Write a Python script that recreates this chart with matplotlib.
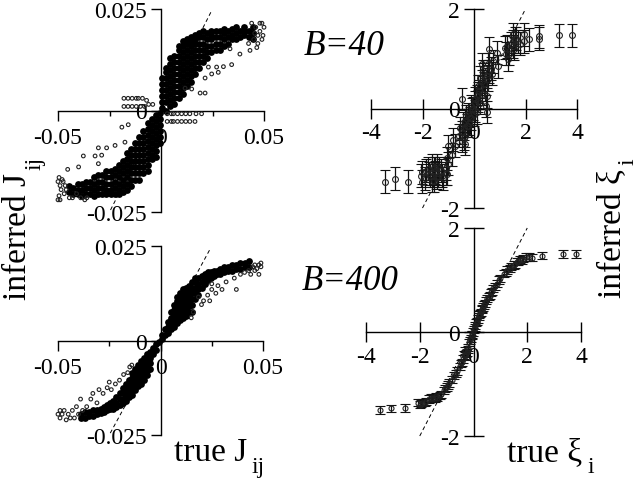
import matplotlib
matplotlib.use("Agg")
import matplotlib.pyplot as plt

plt.rcParams['font.family'] = ['Liberation Serif', 'DejaVu Serif']

# top left, B=40 : dense part
core_a_cols = [0.0005,0.0025,0.0045,0.0065,0.0085,0.0105,0.0125,0.0145,0.0165,0.0185,0.0205,0.0225,0.0245,0.0265,0.0285,0.0305,0.0325,0.0345,0.0365,0.0385,0.0405,0.0425,0.0445,
               -0.0005,-0.0025,-0.0045,-0.0065,-0.0085,-0.0105,-0.0125,-0.0145,-0.0165,-0.0185,-0.0205,-0.0225,-0.0245,-0.0265,-0.0285,-0.0305,-0.0325,-0.0345,-0.0365,-0.0385,-0.0405,-0.0425,-0.0445]
core_a_vals = [[0.0005,0.002,0.0035,0.005,0.0065,0.008],
               [0.0,0.002,0.0035,0.005,0.0065,0.008,0.0095,0.0105],
               [0.001,0.0025,0.004,0.0055,0.007,0.0085,0.01,0.0115,0.013],
               [0.0015,0.003,0.0045,0.006,0.0075,0.009,0.0105,0.012,0.0135],
               [0.003,0.0045,0.006,0.0075,0.009,0.0105,0.012,0.0135,0.015,0.016],
               [0.004,0.0055,0.007,0.0085,0.01,0.0115,0.013,0.0145,0.016,0.017],
               [0.006,0.0075,0.009,0.0105,0.012,0.0135,0.015,0.0165,0.0175],
               [0.007,0.0085,0.01,0.0115,0.013,0.0145,0.016,0.017,0.018],
               [0.009,0.0105,0.012,0.0135,0.015,0.0165,0.0175,0.0185],
               [0.0105,0.012,0.0135,0.015,0.0165,0.018,0.019],
               [0.012,0.0135,0.015,0.0165,0.018,0.0195],
               [0.013,0.0145,0.016,0.0175,0.019],
               [0.0145,0.016,0.0175,0.0185,0.0195],
               [0.015,0.0165,0.018,0.0195],
               [0.015,0.0165,0.018,0.0195],
               [0.016,0.0175,0.019,0.02],
               [0.0165,0.018,0.0195],
               [0.0175,0.0185,0.02],
               [0.0175,0.019,0.0205],
               [0.018,0.0195],
               [0.0185,0.0195,0.0205],
               [0.018,0.0195],
               [0.0175,0.019,0.0205],
               [-0.0005,-0.002,-0.0035,-0.005,-0.0065,-0.008],
               [-0.001,-0.0025,-0.004,-0.0055,-0.007,-0.0085,-0.01,-0.0115],
               [-0.002,-0.0035,-0.005,-0.0065,-0.008,-0.0095,-0.011,-0.012],
               [-0.003,-0.0045,-0.006,-0.0075,-0.009,-0.0105,-0.012,-0.0135,-0.015],
               [-0.005,-0.0065,-0.008,-0.0095,-0.011,-0.0125,-0.014,-0.0155],
               [-0.0065,-0.008,-0.0095,-0.011,-0.0125,-0.014,-0.0155,-0.017],
               [-0.008,-0.0095,-0.011,-0.0125,-0.014,-0.0155,-0.017],
               [-0.0095,-0.011,-0.0125,-0.014,-0.0155,-0.017,-0.0185],
               [-0.0105,-0.012,-0.0135,-0.015,-0.0165,-0.018,-0.0195],
               [-0.0125,-0.014,-0.0155,-0.017,-0.0185,-0.02],
               [-0.0135,-0.015,-0.0165,-0.018,-0.0195,-0.0205],
               [-0.0145,-0.016,-0.0175,-0.019,-0.0205],
               [-0.015,-0.0165,-0.018,-0.0195,-0.0205],
               [-0.015,-0.0165,-0.018,-0.0195,-0.0205],
               [-0.016,-0.0175,-0.019,-0.0205],
               [-0.016,-0.0175,-0.019,-0.0205],
               [-0.0165,-0.018,-0.0195,-0.021],
               [-0.0175,-0.019,-0.0205],
               [-0.0175,-0.019,-0.0205],
               [-0.018,-0.0195,-0.021],
               [-0.018,-0.0195,-0.0205],
               [-0.019,-0.0205],
               [-0.0185,-0.02]]

# top left : loose circles and the two wings along y=0
loose_a_x = [-0.018,-0.016,-0.014,-0.012,-0.011,-0.009,-0.007,-0.018,-0.016,-0.014,-0.012,-0.01,-0.008,-0.006,-0.004,
             0.003,0.005,0.006,0.008,0.01,0.012,0.014,0.017,0.0197,0.003,0.005,0.006,0.008,0.01,0.012,0.014,0.0165,
             0.019,0.0214,0.0149,0.0117,0.0214,0.0246,0.0278,0.0303,0.0343,0.0383,0.0432,0.0335,0.027,0.023,
             0.0425,0.044,0.045,0.046,0.0465,0.047,0.048,0.048,0.049,0.049,0.05,0.0495,0.047,0.0455,
             -0.0453,-0.0377,-0.04,-0.032,-0.0288,-0.0304,-0.0264,-0.0304,-0.019,-0.0159,-0.0223,-0.0175,
             -0.05,-0.0495,-0.049,-0.0485,-0.048,-0.0475,-0.047,-0.0465,-0.046,-0.049,-0.05,-0.0495,-0.0445,-0.043,-0.041,-0.039,-0.037,-0.036]
loose_a_y = [0.003,0.003,0.003,0.003,0.003,0.003,0.0025,0.001,0.001,0.001,0.001,0.001,0.001,0.0015,0.0015,
             -0.0008,-0.0008,-0.0008,-0.0008,-0.0008,-0.0008,-0.0008,-0.0008,-0.0008,-0.0027,-0.0027,-0.0027,-0.0027,-0.0027,-0.0027,-0.0027,-0.0027,
             0.0043,0.0043,0.0053,0.0055,0.008,0.009,0.0094,0.0108,0.0113,0.0139,0.0148,0.0152,0.0107,0.0107,
             0.0165,0.0215,0.0175,0.0205,0.0155,0.0185,0.0215,0.0195,0.0175,0.0215,0.0205,0.0185,0.0165,0.019,
             -0.0145,-0.0112,-0.0139,-0.0112,-0.011,-0.0092,-0.0092,-0.0131,-0.0041,-0.0035,-0.0086,-0.0078,
             -0.0175,-0.0165,-0.0185,-0.0195,-0.017,-0.0175,-0.0205,-0.0185,-0.0195,-0.022,-0.022,-0.021,-0.0215,-0.0215,-0.0205,-0.0215,-0.022,-0.0215]

# bottom left, B=400 : dense part
core_c_cols = [0.0005,0.002,0.0035,0.005,0.0065,0.008,0.0095,0.011,0.0125,0.014,0.0155,0.017,0.0185,0.02,0.0215,0.023,0.0245,0.026,0.0275,0.029,0.031,0.033,0.035,0.037,0.039,0.041,0.043,
               -0.0005,-0.002,-0.0035,-0.005,-0.0065,-0.008,-0.0095,-0.011,-0.0125,-0.014,-0.0155,-0.017,-0.0185,-0.02,-0.0215,-0.023,-0.0245,-0.026,-0.0275,-0.029,-0.031,-0.033,-0.035,-0.037,-0.039]
core_c_vals = [[0.0005,0.0015],[0.0015,0.003],[0.002,0.0035,0.005],[0.003,0.0045,0.006,0.0075],
               [0.0035,0.005,0.0065,0.008,0.0095],[0.0045,0.006,0.0075,0.009,0.0105,0.0115],
               [0.0055,0.007,0.0085,0.01,0.0115,0.0125],[0.006,0.0075,0.009,0.0105,0.012,0.0135],
               [0.0065,0.008,0.0095,0.011,0.0125,0.014],[0.0075,0.009,0.0105,0.012,0.0135,0.0145],
               [0.0075,0.0095,0.011,0.0125,0.014,0.0155],[0.011,0.0125,0.014,0.0155,0.0165],
               [0.012,0.0135,0.015,0.0165],[0.014,0.0155,0.017],[0.015,0.0165,0.0175],[0.016,0.0175,0.018],
               [0.0165,0.018],[0.017,0.0185],[0.0175,0.0185],[0.0175,0.019],[0.018,0.0195],[0.0185,0.0195],
               [0.0185,0.02],[0.019,0.02],[0.019,0.0205],[0.0195,0.0205],[0.0195,0.021],
               [-0.0005],[-0.001,-0.0025],[-0.002,-0.0035],[-0.003,-0.0045,-0.006,-0.0075],
               [-0.0035,-0.005,-0.0065,-0.008,-0.009],[-0.0045,-0.006,-0.0075,-0.009,-0.0105],
               [-0.0055,-0.007,-0.0085,-0.01,-0.0115],[-0.0065,-0.008,-0.0095,-0.011,-0.012],
               [-0.0075,-0.009,-0.0105,-0.012,-0.013],[-0.0085,-0.01,-0.0115,-0.013,-0.0145],
               [-0.0105,-0.012,-0.0135,-0.015],[-0.0115,-0.013,-0.0145,-0.016],[-0.0125,-0.014,-0.0155,-0.0165],
               [-0.014,-0.0155,-0.017],[-0.015,-0.0165,-0.0175],[-0.016,-0.0175,-0.018],[-0.0165,-0.018],
               [-0.017,-0.0185],[-0.0175,-0.019],[-0.018,-0.0193],[-0.0185,-0.0195],[-0.0185,-0.02],
               [-0.019,-0.02],[-0.019,-0.0205],[-0.0195,-0.0205]]

loose_c_x = [0.0185,0.02,0.021,0.023,0.024,0.025,0.025,0.027,0.028,0.03,0.032,0.036,0.037,0.039,0.041,0.043,0.044,0.045,0.046,0.047,
             0.048,0.048,0.049,0.049,0.046,0.015,0.016,-0.049,-0.05,-0.049,-0.048,-0.047,-0.046,-0.045,-0.044,-0.043,-0.042,-0.041,-0.04,-0.039,
             -0.038,-0.036,-0.034,-0.033,-0.031,-0.03,-0.028,-0.026,-0.025,-0.024,-0.022,-0.02,-0.018,-0.016,-0.015,-0.014]
loose_c_y = [0.0115,0.0095,0.0105,0.012,0.0105,0.0135,0.015,0.0125,0.0145,0.0135,0.0155,0.0165,0.0135,0.0175,0.018,0.0185,0.0175,0.0195,0.0185,0.019,
             0.02,0.0175,0.0205,0.0195,0.02,0.006,0.0075,-0.0185,-0.0195,-0.0205,-0.0195,-0.0185,-0.021,-0.0195,-0.0205,-0.0185,-0.0205,-0.0175,-0.0195,-0.0155,
             -0.0185,-0.0175,-0.0155,-0.014,-0.0165,-0.013,-0.014,-0.0125,-0.011,-0.013,-0.0115,-0.0105,-0.009,-0.0085,-0.007,-0.0065]

# top right, B=40
xi_b_x = [3.8,3.3,2.53,2.53,2.14,1.94,1.94,1.72,1.52,1.52,1.52,1.6,1.33,1.2,1.35,0.88,0.58,0.75,0.55,0.3,
          0.36,0.55,0.23,0.17,0.43,0.49,0.49,0.45,-0.48,0.23,0.04,-0.09,0.1,-0.22,-0.35,-0.28,-0.48,-0.35,-0.8,-1.0,
          -0.74,-0.48,-0.35,-0.86,-1.0,-1.06,-1.45,-1.5,-1.7,-1.38,-1.57,-2.03,-2.03,-2.57,-3.08,-3.47,-1.77,-1.3,-1.65,-1.9,
          0.65,0.4,0.15,-0.15,-0.05,0.05,0.3,-0.2,-0.55,-0.6,-1.1,-1.2,-1.85,-2.05,
          1.45,1.55,1.65,1.8,1.3,1.25,0.95,0.7,0.6,0.5,0.35,0.3,0.25,0.2,0.15,0.1,0.05,0.0,-0.1,-0.12,
          -0.18,-0.25,-0.3,-0.38,-0.42,-0.4,-1.55,-1.6,-1.45,-1.35,-1.25,-1.75,-1.65,-1.5,-1.4,-1.1,-1.05]
xi_b_y = [1.47,1.47,1.45,1.4,1.39,1.49,1.35,1.35,1.49,1.35,1.25,1.4,0.99,1.22,1.1,1.12,1.2,0.95,0.89,0.89,
          0.69,0.59,0.62,0.45,0.39,0.25,-0.07,0.05,0.19,0.12,0.12,-0.01,-0.08,-0.11,-0.25,-0.35,-0.48,-0.55,-0.63,-0.76,
          -0.75,-0.65,-0.71,-0.93,-1.11,-1.31,-1.15,-1.28,-1.35,-1.35,-1.45,-1.28,-1.47,-1.47,-1.41,-1.47,-1.21,-1.25,-1.15,-1.4,
          0.8,0.5,0.3,-0.2,0.0,0.2,0.3,-0.3,-0.4,-0.55,-1.3,-1.4,-1.25,-1.35,
          1.3,1.2,1.4,1.3,1.25,1.1,0.85,0.7,0.75,0.65,0.75,0.55,0.45,0.35,0.15,0.25,-0.05,-0.12,0.05,-0.2,
          -0.15,-0.35,-0.15,-0.4,-0.3,-0.6,-1.2,-1.35,-1.38,-1.2,-1.35,-1.3,-1.45,-1.2,-1.3,-1.2,-1.0]
xi_b_err = 0.23

# bottom right, B=400
xi_d_x = [3.82,3.33,2.54,2.17,2.05,1.95,1.85,1.8,1.74,1.65,1.6,1.55,1.49,1.4,1.35,1.24,1.2,1.15,1.0,0.95,0.88,0.8,0.74,0.7,0.65,0.6,0.56,0.5,0.46,0.44,
          0.4,0.37,0.33,0.3,0.28,0.25,0.22,0.2,0.15,0.12,0.1,0.06,0.04,0.02,-0.02,-0.04,-0.06,-0.1,-0.12,-0.15,-0.2,-0.22,-0.25,-0.28,-0.3,-0.32,-0.35,-0.38,-0.43,-0.46,
          -0.5,-0.6,-0.65,-0.74,-0.8,-0.9,-0.95,-1.0,-1.05,-1.1,-1.2,-1.25,-1.36,-1.4,-1.45,-1.5,-1.55,-1.6,-1.67,-1.75,-1.8,-1.9,-1.95,-2.0,-2.05,-2.54,-3.08,-3.47]
xi_d_y = [1.5,1.5,1.47,1.43,1.44,1.44,1.41,1.38,1.39,1.36,1.35,1.3,1.29,1.26,1.22,1.19,1.15,1.12,1.03,1.0,0.93,0.88,0.84,0.78,0.76,0.7,0.68,0.65,0.6,0.55,
          0.52,0.48,0.45,0.43,0.38,0.35,0.33,0.3,0.25,0.2,0.18,0.13,0.08,0.05,0.0,-0.05,-0.06,-0.12,-0.16,-0.2,-0.3,-0.34,-0.39,-0.42,-0.36,-0.46,-0.44,-0.52,-0.58,-0.6,
          -0.66,-0.75,-0.8,-0.84,-0.92,-0.98,-1.02,-1.06,-1.08,-1.12,-1.2,-1.22,-1.26,-1.24,-1.27,-1.26,-1.28,-1.27,-1.29,-1.33,-1.36,-1.36,-1.38,-1.4,-1.36,-1.46,-1.47,-1.5]
xi_d_err = 0.07

j_ticks = [-0.05, 0, 0.05]
j_minor = [-0.025, 0.025]
j_yticks = [-0.025, 0, 0.025]
j_xlabels = ['-0.05', '0', '0.05']
j_ylabels = ['-0.025', '0', '0.025']
xi_xticks = [-4, -2, 0, 2, 4]
xi_yticks = [-2, 0, 2]
j_diag = [-0.0245, 0.0245]
xi_diag = [-2, 2]

W, H = 640, 481
fig = plt.figure(figsize=(W/100, H/100), dpi=100)


def flatten(cols, vals):
    xs = []
    ys = []
    for c, v in zip(cols, vals):
        for y in v:
            xs.append(c)
            ys.append(y)
    return xs, ys


def make_axes(left, right, top, bottom):
    ax = fig.add_axes([left/W, 1-bottom/H, (right-left)/W, (bottom-top)/H])
    ax.patch.set_visible(False)
    ax.spines['left'].set_position('zero')
    ax.spines['bottom'].set_position('zero')
    ax.spines['right'].set_visible(False)
    ax.spines['top'].set_visible(False)
    for s in ['left', 'bottom']:
        ax.spines[s].set_linewidth(1.0)
    return ax


def j_panel(ax, core_x, core_y, loose_x, loose_y, core_size):
    ax.set_xlim(-0.05, 0.05)
    ax.set_ylim(-0.025, 0.025)
    ax.plot(j_diag, j_diag, color='k', ls='--', lw=0.7, dashes=(4, 3), clip_on=False)
    ax.scatter(core_x, core_y, s=core_size, color='k', linewidths=0, clip_on=False, zorder=3)
    ax.scatter(loose_x, loose_y, s=7, facecolor='none', edgecolor='#222222', linewidths=0.8, clip_on=False, zorder=3)
    ax.set_xticks(j_ticks)
    ax.set_xticklabels(j_xlabels)
    ax.set_xticks(j_minor, minor=True)
    ax.set_yticks(j_yticks)
    ax.set_yticklabels(j_ylabels)
    ax.tick_params(axis='x', which='major', direction='out', length=7, width=1, labelsize=17, pad=5)
    ax.tick_params(axis='x', which='minor', direction='out', length=3.5, width=1)
    ax.tick_params(axis='y', which='major', direction='out', length=7, width=1, labelsize=17, pad=3)


def xi_panel(ax, x, y, err, ms):
    ax.set_xlim(-4, 4)
    ax.set_ylim(-2, 2)
    ax.plot(xi_diag, xi_diag, color='k', ls='--', lw=0.7, dashes=(4, 3), clip_on=False)
    ax.errorbar(x, y, yerr=err, fmt='o', ms=ms, mfc='none', mec='#222222', mew=0.8,
                ecolor='#111111', elinewidth=0.9, capsize=3.4, capthick=0.9, clip_on=False, zorder=3)
    ax.set_xticks(xi_xticks)
    ax.set_yticks(xi_yticks)
    ax.set_xticklabels([str(v) for v in xi_xticks])
    ax.set_yticklabels([str(v) for v in xi_yticks])
    ax.tick_params(axis='x', direction='inout', length=14, width=1, labelsize=17, pad=3)
    ax.tick_params(axis='y', direction='inout', length=14, width=1, labelsize=17, pad=3)


core_a_x, core_a_y = flatten(core_a_cols, core_a_vals)
core_c_x, core_c_y = flatten(core_c_cols, core_c_vals)

ax_a = make_axes(58, 264, 10, 213)
j_panel(ax_a, core_a_x, core_a_y, loose_a_x, loose_a_y, 24)

ax_b = make_axes(371, 577, 10, 209)
xi_panel(ax_b, xi_b_x, xi_b_y, xi_b_err, 4.2)

ax_c = make_axes(58, 263, 247, 436)
j_panel(ax_c, core_c_x, core_c_y, loose_c_x, loose_c_y, 24)

ax_d = make_axes(366, 581, 229, 437)
xi_panel(ax_d, xi_d_x, xi_d_y, xi_d_err, 3.6)


def label(x, y, s, size, **kw):
    fig.text(x/W, 1-y/H, s, fontsize=size, **kw)


label(33, 300, 'inferred J', 24, rotation=90, ha='left', va='bottom', rotation_mode='anchor')
label(46, 170, 'ij', 17, rotation=90, ha='left', va='bottom', rotation_mode='anchor')
label(628, 298, 'inferred \u03be', 24, rotation=90, ha='left', va='bottom', rotation_mode='anchor')
label(638, 165, 'i', 17, rotation=90, ha='left', va='bottom', rotation_mode='anchor')
label(174, 461, 'true J', 24, ha='left', va='baseline')
label(251, 473, 'ij', 17, ha='left', va='baseline')
label(507, 461, 'true \u03be', 24, ha='left', va='baseline')
label(587, 473, 'i', 17, ha='left', va='baseline')
label(304, 55, 'B=40', 25.5, style='italic', ha='left', va='baseline')
label(302, 290, 'B=400', 25, style='italic', ha='left', va='baseline')

fig.savefig('out.png', dpi=100)
